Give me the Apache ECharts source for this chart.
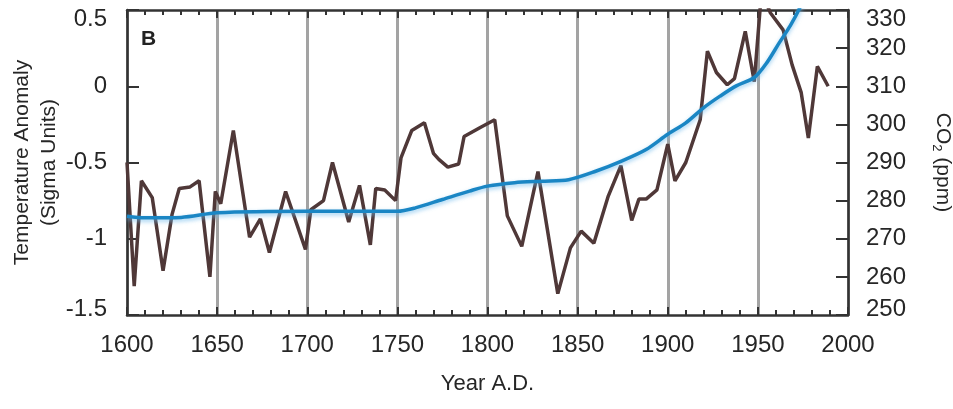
<!doctype html>
<html lang="en">
<head>
    <meta charset="UTF-8">
    <title>Temperature anomaly and CO2</title>
    <script src="https://cdn.jsdelivr.net/npm/echarts@6/dist/echarts.min.js"></script>
    <style>
        html, body {
            margin: 0;
            padding: 0;
            background-color: #ffffff;
        }

        #mainChart {
            width: 953px;
            height: 409px;
        }
    </style>
</head>
<body>
<div id="mainChart"></div>
<script>
    // temperature anomaly (sigma units)
    let tempYears = [1600, 1604, 1608, 1614, 1620, 1625, 1629, 1635, 1640, 1646, 1649, 1652, 1659,
        1668, 1674, 1679, 1688, 1699, 1702, 1709, 1714, 1723, 1729, 1735, 1738, 1743, 1749, 1752,
        1758, 1765, 1770, 1773, 1778, 1784, 1787, 1796, 1804, 1811, 1819, 1828, 1839, 1846, 1852,
        1859, 1867, 1874, 1880, 1884, 1888, 1894, 1900, 1904, 1910, 1918, 1922, 1927, 1933, 1937,
        1943, 1948, 1952, 1957, 1964, 1969, 1974, 1978, 1983, 1989];
    let tempValues = [-0.50, -1.31, -0.62, -0.73, -1.21, -0.84, -0.67, -0.66, -0.62, -1.25, -0.69, -0.77, -0.29,
        -0.99, -0.87, -1.09, -0.69, -1.07, -0.81, -0.75, -0.50, -0.89, -0.65, -1.04, -0.67, -0.68, -0.75, -0.47,
        -0.29, -0.24, -0.44, -0.48, -0.53, -0.51, -0.33, -0.27, -0.22, -0.85, -1.05, -0.56, -1.36, -1.06, -0.95,
        -1.03, -0.72, -0.52, -0.88, -0.74, -0.74, -0.68, -0.38, -0.62, -0.50, -0.22, 0.23, 0.09, 0.01, 0.05,
        0.36, 0.03, 0.62, 0.48, 0.37, 0.14, -0.04, -0.34, 0.13, 0.00];

    // atmospheric CO2 (ppm), blue curve
    let co2Years = [1600, 1610, 1630, 1650, 1700, 1750, 1760, 1775, 1790, 1800, 1815, 1830, 1845, 1860,
        1875, 1888, 1900, 1910, 1920, 1929, 1938, 1948, 1955, 1962, 1968, 1973, 1978];
    let co2Values = [275.9, 275.5, 275.6, 276.8, 277.2, 277.2, 278.1, 280.3, 282.5, 283.8, 284.7, 285.1, 285.5, 287.7,
        290.5, 293.4, 297.4, 300.4, 304.4, 307.4, 310.1, 312.3, 316.2, 321.5, 325.9, 330.3, 336.0];

    let yearTicks = [1600, 2000, 50];
    let tempTicks = [-1.5, 0.5, 0.5];
    let co2Ticks = [250, 330, 10];

    let font = 'Liberation Sans, Arial, sans-serif';
    let ink = '#262626';
    let dark = '#333333';

    function pairs(xs, ys) {
        let out = [];
        for (let i = 0; i < xs.length; i++) {
            out.push([xs[i], ys[i]]);
        }
        return out;
    }

    // fresh objects for every axis
    function frame() {
        return {show: true, onZero: false, lineStyle: {color: dark, width: 2.5}};
    }
    function tick(len) {
        return {show: true, inside: true, length: len, lineStyle: {color: dark, width: 2}};
    }
    function minor() {
        return {show: true, splitNumber: 5, length: 5, lineStyle: {color: dark, width: 2}};
    }
    function lbl(extra) {
        return Object.assign({fontSize: 24, fontFamily: font, color: ink}, extra || {});
    }
    function edgeLabels(ticks) {
        return function (v) {
            if (v === ticks[1]) return '{t|' + v + '}';
            if (v === ticks[0]) return '{b|' + v + '}';
            return String(v);
        };
    }

    function chartInit() {
        let myChart = echarts.init(document.getElementById('mainChart'));

        let option = {
            animation: false,
            backgroundColor: '#ffffff',
            grid: {left: 127, right: 105, top: 10, bottom: 94, outerBoundsMode: 'none'},
            graphic: [{
                type: 'text',
                left: 141,
                top: 29,
                style: {text: 'B', font: 'bold 21px ' + font, fill: '#222222'}
            }],
            xAxis: [{
                type: 'value',
                position: 'bottom',
                min: yearTicks[0],
                max: yearTicks[1],
                interval: yearTicks[2],
                name: 'Year A.D.',
                nameLocation: 'middle',
                nameGap: 58,
                nameMoveOverlap: false,
                nameTextStyle: {fontSize: 22, fontFamily: font, color: ink},
                axisLine: frame(),
                axisTick: tick(8),
                minorTick: minor(),
                splitLine: {show: true, lineStyle: {color: '#a3a3a3', width: 3}},
                axisLabel: lbl({
                    margin: 18, showMinLabel: true, showMaxLabel: true,
                    formatter: function (v) { return String(v); }
                })
            }, {
                type: 'value',
                position: 'top',
                min: yearTicks[0],
                max: yearTicks[1],
                interval: yearTicks[2],
                axisLine: frame(),
                axisTick: tick(8),
                minorTick: minor(),
                splitLine: {show: false},
                axisLabel: {show: false}
            }],
            yAxis: [{
                type: 'value',
                position: 'left',
                min: tempTicks[0],
                max: tempTicks[1],
                interval: tempTicks[2],
                name: 'Temperature Anomaly\n(Sigma Units)',
                nameLocation: 'middle',
                nameRotate: 90,
                nameGap: 64,
                nameMoveOverlap: false,
                nameTextStyle: {fontSize: 21, lineHeight: 27, fontFamily: font, color: ink},
                axisLine: frame(),
                axisTick: tick(12),
                splitLine: {show: false},
                axisLabel: lbl({
                    margin: 20, showMinLabel: true, showMaxLabel: true,
                    formatter: edgeLabels(tempTicks),
                    rich: {t: lbl({padding: [18, 0, 0, 0]}), b: lbl({padding: [0, 0, 12, 0]})}
                })
            }, {
                type: 'value',
                position: 'right',
                min: co2Ticks[0],
                max: co2Ticks[1],
                interval: co2Ticks[2],
                name: 'CO{s|2} (ppm)',
                nameLocation: 'middle',
                nameRotate: -90,
                nameGap: 82,
                nameMoveOverlap: false,
                nameTextStyle: {
                    fontSize: 21, fontFamily: font, color: ink,
                    rich: {s: {fontSize: 13, fontFamily: font, color: ink, padding: [12, 0, 0, 0]}}
                },
                axisLine: frame(),
                axisTick: tick(12),
                splitLine: {show: false},
                axisLabel: lbl({
                    margin: 18, showMinLabel: true, showMaxLabel: true,
                    formatter: edgeLabels(co2Ticks),
                    rich: {t: lbl({padding: [18, 0, 0, 0]}), b: lbl({padding: [0, 0, 12, 0]})}
                })
            }],
            series: [{
                name: 'Temperature',
                type: 'line',
                xAxisIndex: 0,
                yAxisIndex: 0,
                symbol: 'none',
                clip: true,
                data: pairs(tempYears, tempValues),
                lineStyle: {color: '#4f3838', width: 3.5}
            }, {
                name: 'CO2',
                type: 'line',
                xAxisIndex: 0,
                yAxisIndex: 1,
                symbol: 'none',
                smooth: 0.3,
                clip: true,
                data: pairs(co2Years, co2Values),
                lineStyle: {
                    color: '#1a86c4', width: 3.5,
                    shadowColor: 'rgba(110, 185, 235, 0.7)', shadowBlur: 4, shadowOffsetY: 2
                }
            }]
        };

        option && myChart.setOption(option);
    }

    chartInit();
</script>
</body>
</html>
